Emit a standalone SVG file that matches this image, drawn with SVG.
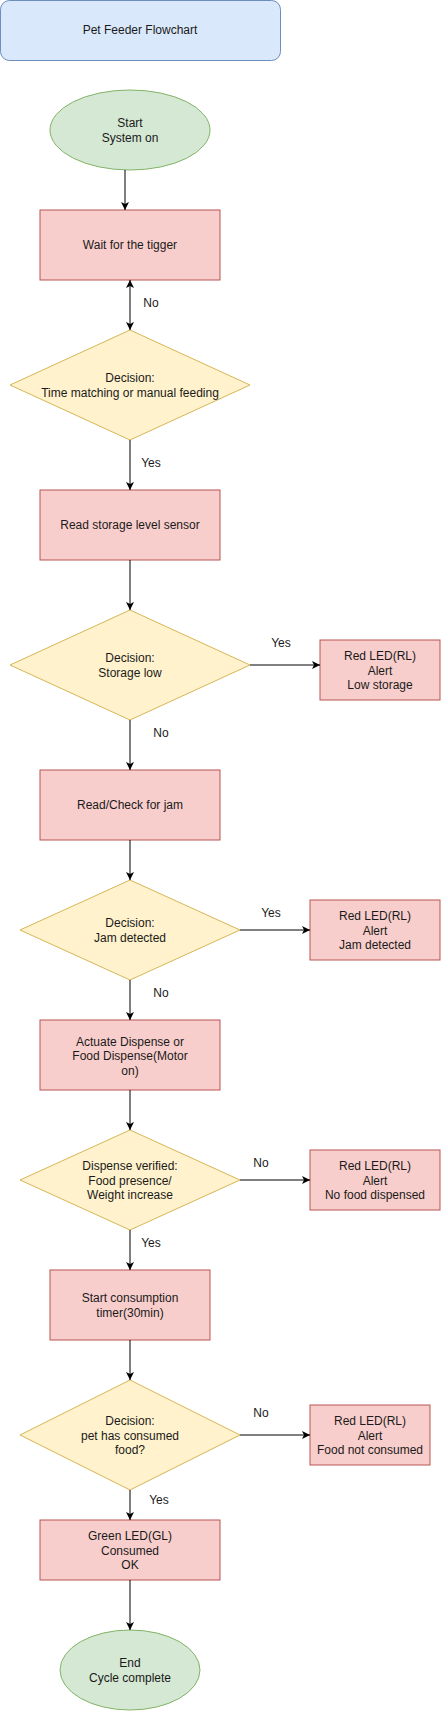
<svg xmlns="http://www.w3.org/2000/svg" width="441" height="1711" viewBox="0 0 441 1711">
<defs>
<marker id="arr" markerWidth="10" markerHeight="10" refX="8" refY="4" orient="auto" markerUnits="userSpaceOnUse">
<path d="M0,0 L8,4 L0,8 L2,4 z" fill="#000"/>
</marker>
<marker id="arrs" markerWidth="10" markerHeight="10" refX="0" refY="4" orient="auto" markerUnits="userSpaceOnUse">
<path d="M8,0 L0,4 L8,8 L6,4 z" fill="#000"/>
</marker>
<style>
text{font-family:"Liberation Sans",Arial,sans-serif;font-size:12px;fill:#1a1a1a;text-anchor:middle;dominant-baseline:central}
.proc{fill:#f8cecc;stroke:#b85450;stroke-width:1}
.dec{fill:#fff2cc;stroke:#d6b656;stroke-width:1}
.term{fill:#d5e8d4;stroke:#82b366;stroke-width:1}
.title{fill:#dae8fc;stroke:#6c8ebf;stroke-width:1}
.edge{stroke:#000;stroke-width:1;fill:none;marker-end:url(#arr)}
.lbl{fill:#1a1a1a}
</style>
</defs>
<g id="title"><rect class="title" x="0.5" y="0.5" width="280" height="60" rx="9"/><text x="140" y="30">Pet Feeder Flowchart</text></g>
<g id="start"><ellipse class="term" cx="130" cy="130" rx="80" ry="40"/><text x="130" y="123">Start</text><text x="130" y="138">System on</text></g>
<g id="wait"><rect class="proc" x="40" y="210" width="180" height="70"/><text x="130" y="245">Wait for the tigger</text></g>
<g id="dec1"><polygon class="dec" points="130,330 250,385 130,440 10,385"/><text x="130" y="378">Decision:</text><text x="130" y="393">Time matching or manual feeding</text></g>
<g id="readStorage"><rect class="proc" x="40" y="490" width="180" height="70"/><text x="130" y="525">Read storage level sensor</text></g>
<g id="dec2"><polygon class="dec" points="130,610 250,665 130,720 10,665"/><text x="130" y="658">Decision:</text><text x="130" y="673">Storage low</text></g>
<g id="rl1"><rect class="proc" x="320" y="640" width="120" height="60"/><text x="380" y="656">Red LED(RL)</text><text x="380" y="670.5">Alert</text><text x="380" y="685">Low storage</text></g>
<g id="checkJam"><rect class="proc" x="40" y="770" width="180" height="70"/><text x="130" y="805">Read/Check for jam</text></g>
<g id="dec3"><polygon class="dec" points="130,880 240,930 130,980 20,930"/><text x="130" y="923">Decision:</text><text x="130" y="938">Jam detected</text></g>
<g id="rl2"><rect class="proc" x="310" y="900" width="130" height="60"/><text x="375" y="916">Red LED(RL)</text><text x="375" y="930.5">Alert</text><text x="375" y="945">Jam detected</text></g>
<g id="dispense"><rect class="proc" x="40" y="1020" width="180" height="70"/><text x="130" y="1041.5">Actuate Dispense or</text><text x="130" y="1056">Food Dispense(Motor</text><text x="130" y="1070.5">on)</text></g>
<g id="dec4"><polygon class="dec" points="130,1130 240,1180 130,1230 20,1180"/><text x="130" y="1166">Dispense verified:</text><text x="130" y="1180.5">Food presence/</text><text x="130" y="1195">Weight increase</text></g>
<g id="rl3"><rect class="proc" x="310" y="1150" width="130" height="60"/><text x="375" y="1166">Red LED(RL)</text><text x="375" y="1180.5">Alert</text><text x="375" y="1195">No food dispensed</text></g>
<g id="timer"><rect class="proc" x="50" y="1270" width="160" height="70"/><text x="130" y="1298">Start consumption</text><text x="130" y="1313">timer(30min)</text></g>
<g id="dec5"><polygon class="dec" points="130,1380 240,1435 130,1490 20,1435"/><text x="130" y="1421">Decision:</text><text x="130" y="1435.5">pet has consumed</text><text x="130" y="1450">food?</text></g>
<g id="rl4"><rect class="proc" x="310" y="1405" width="120" height="60"/><text x="370" y="1421">Red LED(RL)</text><text x="370" y="1435.5">Alert</text><text x="370" y="1450">Food not consumed</text></g>
<g id="green"><rect class="proc" x="40" y="1520" width="180" height="60"/><text x="130" y="1536">Green LED(GL)</text><text x="130" y="1550.5">Consumed</text><text x="130" y="1565">OK</text></g>
<g id="end"><ellipse class="term" cx="130" cy="1670" rx="70" ry="40"/><text x="130" y="1663">End</text><text x="130" y="1678">Cycle complete</text></g>
<g id="connectors">
<path class="edge" d="M125,170 L125,210"/>
<path class="edge" d="M130,280 L130,330" style="marker-start:url(#arrs)"/>
<text x="151" y="303">No</text>
<path class="edge" d="M130,440 L130,490"/>
<text x="151" y="463">Yes</text>
<path class="edge" d="M130,560 L130,610"/>
<path class="edge" d="M250,665 L320,665"/>
<text x="281" y="643">Yes</text>
<path class="edge" d="M130,720 L130,770"/>
<text x="161" y="733">No</text>
<path class="edge" d="M130,840 L130,880"/>
<path class="edge" d="M240,930 L310,930"/>
<text x="271" y="913">Yes</text>
<path class="edge" d="M130,980 L130,1020"/>
<text x="161" y="993">No</text>
<path class="edge" d="M130,1090 L130,1130"/>
<path class="edge" d="M240,1180 L310,1180"/>
<text x="261" y="1163">No</text>
<path class="edge" d="M130,1230 L130,1270"/>
<text x="151" y="1243">Yes</text>
<path class="edge" d="M130,1340 L130,1380"/>
<path class="edge" d="M240,1435 L310,1435"/>
<text x="261" y="1413">No</text>
<path class="edge" d="M130,1490 L130,1520"/>
<text x="159" y="1500">Yes</text>
<path class="edge" d="M130,1580 L130,1630"/>
</g>
</svg>
